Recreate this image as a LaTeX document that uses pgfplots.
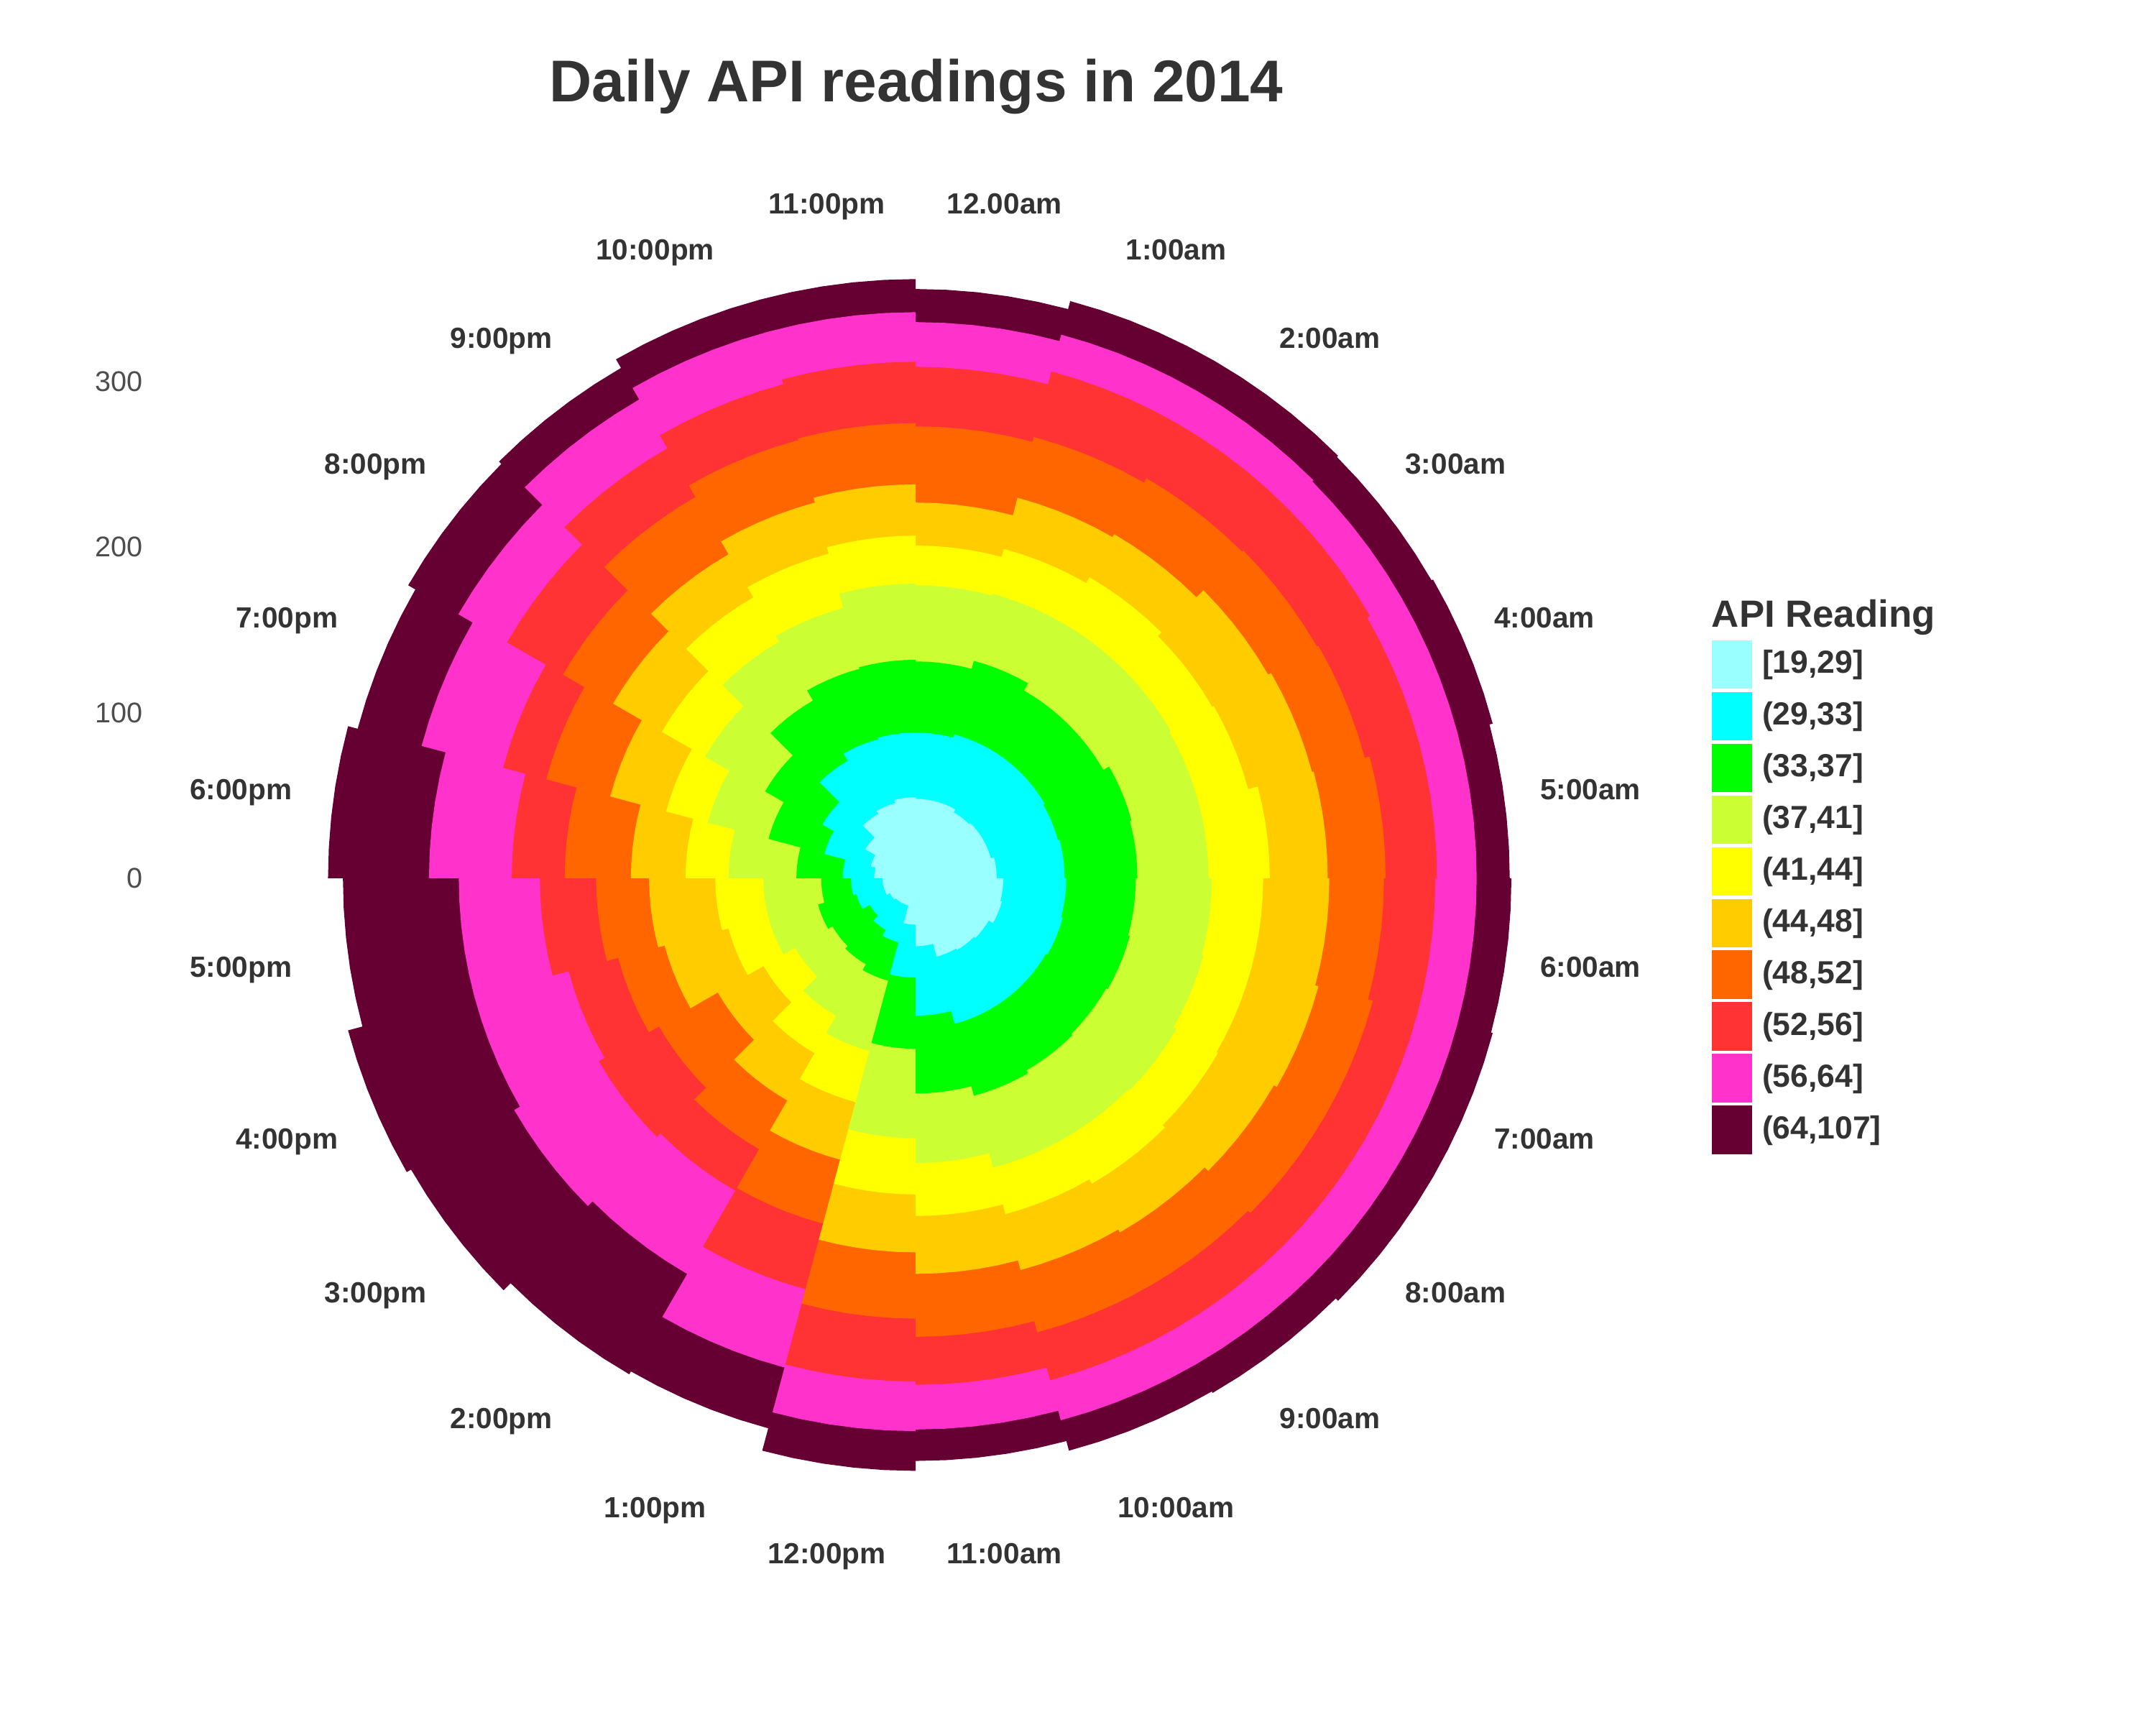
\documentclass[border=0pt]{standalone}
\usepackage{fontspec}
\setmainfont{Liberation Sans}
\usepackage{pgfplots}
\usepackage{pgfplotstable}
\pgfplotsset{compat=1.18}

\definecolor{apic1}{HTML}{99FFFF}
\definecolor{apic2}{HTML}{00FFFF}
\definecolor{apic3}{HTML}{00FF00}
\definecolor{apic4}{HTML}{CCFF33}
\definecolor{apic5}{HTML}{FFFF00}
\definecolor{apic6}{HTML}{FFCC00}
\definecolor{apic7}{HTML}{FF6600}
\definecolor{apic8}{HTML}{FF3333}
\definecolor{apic9}{HTML}{FF33CC}
\definecolor{apic10}{HTML}{660033}
\definecolor{txt}{HTML}{333333}
\definecolor{ticktxt}{HTML}{4D4D4D}

% number of days per hour of the day in each API class
\pgfplotstableread{
hour c1 c2 c3 c4 c5 c6 c7 c8 c9 c10
0  48 40 43 46 24 26 46 36 27 20
1  48 42 46 42 28 32 38 41 23 21
2  46 44 41 47 32 30 39 38 23 21
3  47 43 41 47 29 39 34 37 22 21
4  47 42 46 42 31 40 33 34 24 22
5  49 41 44 43 37 35 35 31 24 20
6  53 38 42 46 31 40 33 31 25 21
7  54 38 42 46 30 42 34 28 25 22
8  51 40 42 49 29 39 36 28 25 22
9  50 41 43 47 32 34 37 30 25 20
10 49 42 45 45 29 35 39 30 25 19
11 41 42 47 42 32 35 38 29 27 19
12 28 32 43 54 34 35 40 38 30 24
13 17 23 24 44 32 36 40 41 49 38
14 17 19 24 36 26 33 34 29 58 70
15 18 14 26 26 22 32 41 42 59 72
16 20 17 24 31 25 40 29 31 59 79
17 20 19 18 35 29 40 32 34 49 70
18 25 19 28 41 26 33 40 32 50 61
19 28 29 35 38 26 35 40 27 51 40
20 35 30 40 42 30 34 35 39 34 35
21 45 37 42 41 31 30 40 34 34 22
22 47 40 44 38 34 32 39 35 33 20
23 49 39 44 46 29 31 37 37 30 20
}\apitable

% cumulative stack heights
\foreach \h in {0,...,23}{%
  \gdef\cum{0}%
  \foreach \j in {1,...,10}{%
    \pgfplotstablegetelem{\h}{c\j}\of\apitable
    \pgfmathsetmacro\tmp{\cum+\pgfplotsretval}%
    \xdef\cum{\tmp}%
    \expandafter\xdef\csname cum@\h @\j\endcsname{\cum}%
  }%
}

% polar stacked bars: each class filled from the centre, outermost first
\gdef\allplots{}
\foreach \k in {10,9,...,1}{%
  \gdef\coordlist{}%
  \foreach \h in {0,...,23}{%
    \edef\cum{\csname cum@\h @\k\endcsname}%
    \foreach \s in {0,3,6,9,12,15}{%
      \pgfmathsetmacro\ang{15*\h+\s}%
      \pgfmathsetmacro\px{\cum*sin(\ang)}%
      \pgfmathsetmacro\py{\cum*cos(\ang)}%
      \xdef\coordlist{\coordlist(\px,\py)}%
    }%
  }%
  \xdef\allplots{\unexpanded\expandafter{\allplots}\noexpand\addplot[draw=none,fill=apic\k,forget plot] coordinates {\coordlist};}%
}

\newcommand\hourfont{\fontsize{7.3}{8}\selectfont\bfseries}
\newcommand\tickfont{\fontsize{7.13}{8}\selectfont}
\newcommand\legfont{\fontsize{8}{9}\selectfont\bfseries}
\newcommand\legtitlefont{\fontsize{9.5}{11}\selectfont\bfseries}
\newcommand\titlefont{\fontsize{14.76}{17}\selectfont\bfseries}
\pgfplotsset{keyimg/.style={legend image code/.code={\fill[#1] (0pt,-5.885pt) rectangle (9.77pt,5.885pt);}}}

\begin{document}
\begin{tikzpicture}
\begin{axis}[
  scale only axis, width=540pt, height=432pt,
  xmin=-553.19, xmax=749.46, ymin=-511.51, ymax=530.61,
  axis line style={draw=none}, tick style={draw=none}, major tick length=0pt,
  xtick=\empty, ytick={0,100,200,300}, yticklabels={0,100,200,300},
  yticklabel style={font=\tickfont, text=ticktxt, anchor=east, inner sep=0pt, xshift=35.87pt},
  clip=false,
  legend cell align=left,
  legend style={at={(axis cs:481.0,143.8)}, anchor=north west, draw=none, fill=none,
    inner sep=0pt, outer sep=0pt, row sep=0.78pt, column sep=2.5pt,
    font=\legfont, text=txt, nodes={inner sep=0pt}},
]
\allplots
\addlegendimage{keyimg=apic1}\addlegendentry{{[}19,29]}
\addlegendimage{keyimg=apic2}\addlegendentry{(29,33]}
\addlegendimage{keyimg=apic3}\addlegendentry{(33,37]}
\addlegendimage{keyimg=apic4}\addlegendentry{(37,41]}
\addlegendimage{keyimg=apic5}\addlegendentry{(41,44]}
\addlegendimage{keyimg=apic6}\addlegendentry{(44,48]}
\addlegendimage{keyimg=apic7}\addlegendentry{(48,52]}
\addlegendimage{keyimg=apic8}\addlegendentry{(52,56]}
\addlegendimage{keyimg=apic9}\addlegendentry{(56,64]}
\addlegendimage{keyimg=apic10}\addlegendentry{(64,107]}

\begin{scope}[every node/.style={font=\hourfont, text=txt, inner sep=0pt, text depth=0pt}]
\node at (axis cs:53.67,407.68) {12.00am};
\node at (axis cs:157.36,379.90) {1:00am};
\node at (axis cs:250.32,326.23) {2:00am};
\node at (axis cs:326.23,250.32) {3:00am};
\node at (axis cs:379.90,157.36) {4:00am};
\node at (axis cs:407.68,53.67) {5:00am};
\node at (axis cs:407.68,-53.67) {6:00am};
\node at (axis cs:379.90,-157.36) {7:00am};
\node at (axis cs:326.23,-250.32) {8:00am};
\node at (axis cs:250.32,-326.23) {9:00am};
\node at (axis cs:157.36,-379.90) {10:00am};
\node at (axis cs:53.67,-407.68) {11:00am};
\node at (axis cs:-53.67,-407.68) {12:00pm};
\node at (axis cs:-157.36,-379.90) {1:00pm};
\node at (axis cs:-250.32,-326.23) {2:00pm};
\node at (axis cs:-326.23,-250.32) {3:00pm};
\node at (axis cs:-379.90,-157.36) {4:00pm};
\node at (axis cs:-407.68,-53.67) {5:00pm};
\node at (axis cs:-407.68,53.67) {6:00pm};
\node at (axis cs:-379.90,157.36) {7:00pm};
\node at (axis cs:-326.23,250.32) {8:00pm};
\node at (axis cs:-250.32,326.23) {9:00pm};
\node at (axis cs:-157.36,379.90) {10:00pm};
\node at (axis cs:-53.67,407.68) {11:00pm};
\end{scope}

\node[font=\titlefont, text=txt, anchor=base, inner sep=0pt] at (axis cs:0.5,469.1) {Daily API readings in 2014};
\node[font=\legtitlefont, text=txt, anchor=base west, inner sep=0pt] at (axis cs:480.6,151.8) {API Reading};

\coordinate (bbSW) at (rel axis cs:0,0);
\coordinate (bbNE) at (rel axis cs:1,1);
\end{axis}
\pgfresetboundingbox
\path[use as bounding box] (bbSW) rectangle (bbNE);
\end{tikzpicture}
\end{document}
